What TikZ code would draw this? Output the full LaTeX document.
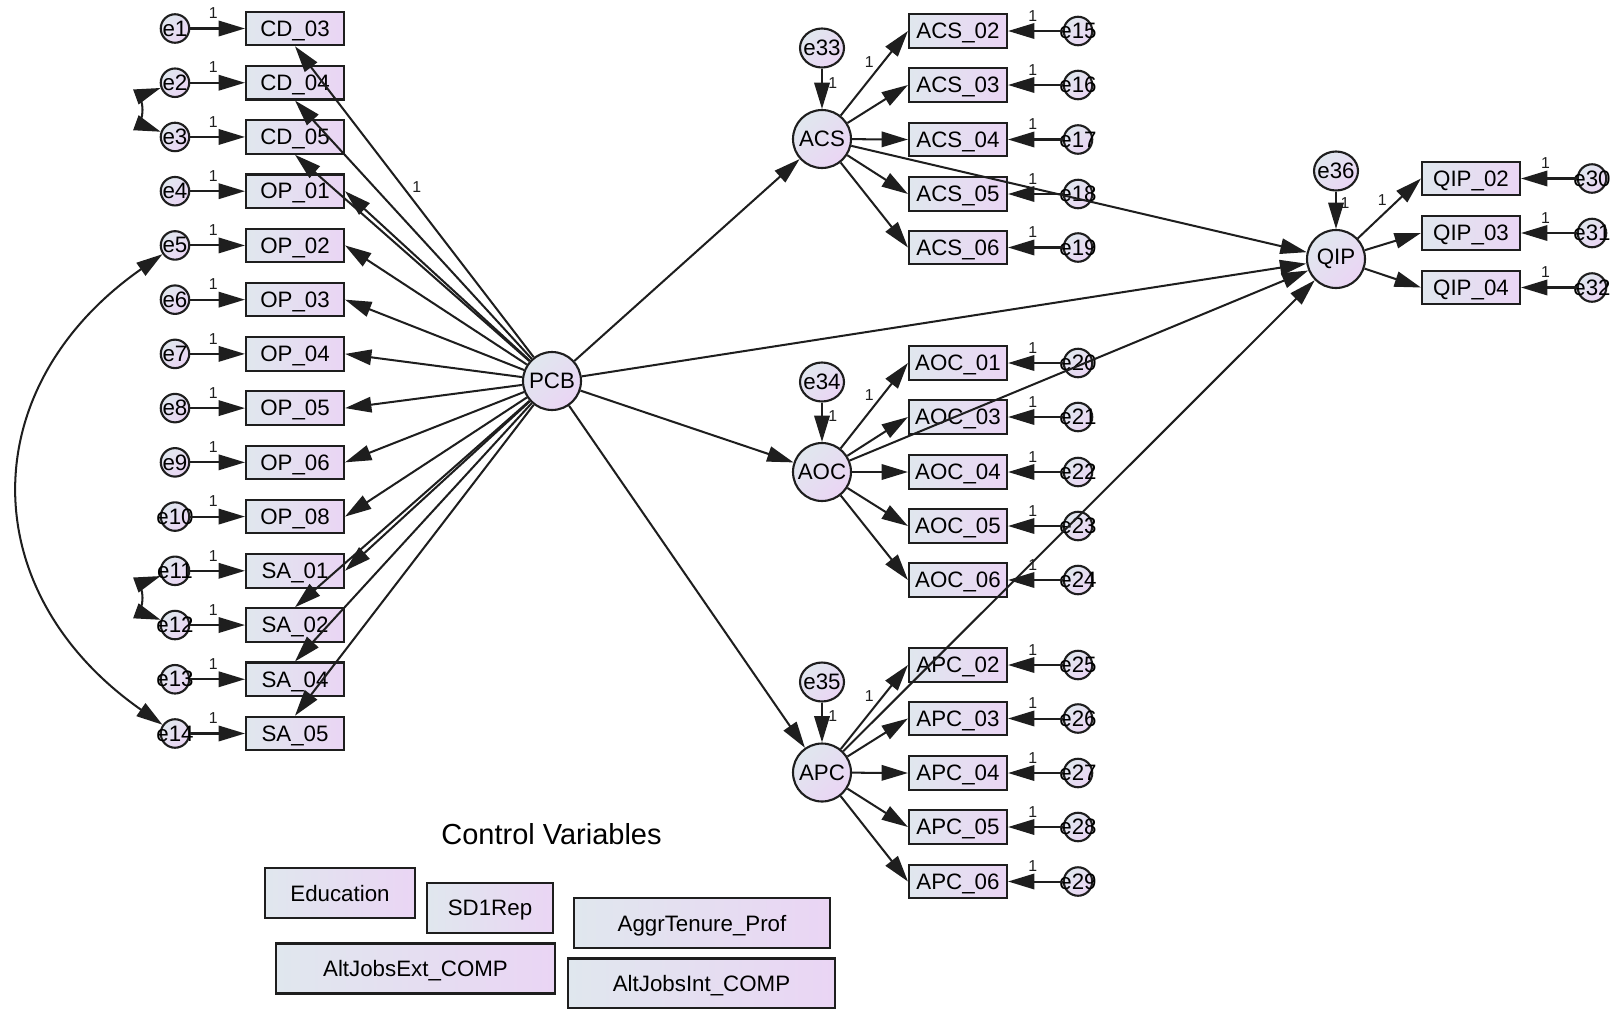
\documentclass[tikz,border=0pt]{standalone}
\usepackage{fontspec}
\setmainfont{Liberation Sans}
\usepackage{tikz}
\usetikzlibrary{arrows.meta, positioning, shapes.geometric}
\usepackage{xcolor}
\definecolor{ShadeL}{RGB}{224, 231, 238}
\definecolor{ShadeR}{RGB}{234, 213, 244}
\definecolor{Ink}{RGB}{30, 30, 30}

\begin{document}
\begin{tikzpicture}[
      x=0.02cm, y=0.02cm,
      ind/.style={draw=Ink, line width=1.2pt, left color=ShadeL, right color=ShadeR,
                  minimum width=1.96cm, minimum height=0.67cm, inner sep=1pt,
                  text depth=0pt, font=\fontsize{12.7}{14}\selectfont},
      cv/.style={ind, minimum height=1cm},
      lat/.style={circle, draw=Ink, line width=1.2pt, top color=ShadeL, bottom color=ShadeR,
                  shading angle=45, minimum size=1.16cm, inner sep=0pt,
                  font=\fontsize{12.7}{14}\selectfont},
      err/.style={lat, minimum size=0.57cm},
      derr/.style={lat, ellipse, minimum width=0.88cm, minimum height=0.78cm},
      etxt/.style={inner sep=0pt, font=\fontsize{12.7}{14}\selectfont},
      lbl/.style={inner sep=1pt, font=\fontsize{9}{10}\selectfont},
      arr/.style={->, >={Triangle[length=15pt, width=8.8pt]}, line width=1.15pt, Ink},
      cov/.style={arr, <->}
    ]
      \useasboundingbox (0,0) rectangle (1616,-1008);

      \node[lat] (pcb) at (552,-381) {PCB};
      \node[lat] (acs) at (822,-139) {ACS};
      \node[lat] (aoc) at (822,-472) {AOC};
      \node[lat] (apc) at (822,-772.5) {APC};
      \node[lat] (qip) at (1336,-259) {QIP};

      \foreach \nm/\lb [count=\i] in {cd03/CD\_03, cd04/CD\_04, cd05/CD\_05, op01/OP\_01,
          op02/OP\_02, op03/OP\_03, op04/OP\_04, op05/OP\_05, op06/OP\_06, op08/OP\_08,
          sa01/SA\_01, sa02/SA\_02, sa04/SA\_04, sa05/SA\_05} {
        \pgfmathsetmacro{\yy}{-28.5-54.23*(\i-1)}
        \node[ind] (\nm) at (295,\yy) {\lb};
        \node[err, label={[etxt]center:e\i}] (e\i) at (175,\yy) {};
        \draw[arr] (e\i) -- node[lbl, pos=.42, above=4pt] {1} (\nm);
      }

      \foreach \nm/\lb/\en/\yy in {acs02/ACS\_02/15/31, acs03/ACS\_03/16/85,
          acs04/ACS\_04/17/139.5, acs05/ACS\_05/18/194, acs06/ACS\_06/19/247.5,
          aoc01/AOC\_01/20/363, aoc03/AOC\_03/21/417, aoc04/AOC\_04/22/472,
          aoc05/AOC\_05/23/526, aoc06/AOC\_06/24/580,
          apc02/APC\_02/25/665, apc03/APC\_03/26/718.5, apc04/APC\_04/27/773,
          apc05/APC\_05/28/827, apc06/APC\_06/29/881.5} {
        \node[ind] (\nm) at (958,-\yy) {\lb};
        \node[err, label={[etxt]center:e\en}] (e\en) at (1078,-\yy) {};
        \draw[arr] (e\en) -- node[lbl, pos=.55, above=4pt] {1} (\nm);
      }

      \foreach \nm/\lb/\en/\yy in {qip02/QIP\_02/30/178.5, qip03/QIP\_03/31/233,
          qip04/QIP\_04/32/287.5} {
        \node[ind] (\nm) at (1471,-\yy) {\lb};
        \node[err, label={[etxt]center:e\en}] (e\en) at (1592,-\yy) {};
        \draw[arr] (e\en) -- node[lbl, pos=.56, above=4pt] {1} (\nm);
      }

      \node[derr, label={[etxt]center:e33}] (e33) at (822,-48) {};
      \node[derr, label={[etxt]center:e34}] (e34) at (822,-382) {};
      \node[derr, label={[etxt]center:e35}] (e35) at (822,-682) {};
      \node[derr, label={[etxt]center:e36}] (e36) at (1336,-171) {};

      \draw[arr] (e33) -- node[lbl, pos=.35, right=2pt] {1} (acs);
      \draw[arr] (e34) -- node[lbl, pos=.35, right=2pt] {1} (aoc);
      \draw[arr] (e35) -- node[lbl, pos=.35, right=2pt] {1} (apc);
      \draw[arr] (e36) -- node[lbl, pos=.3, right=1pt] {1} (qip);

      \draw[arr] (acs) -- node[lbl, pos=.53, above left] {1} (acs02.west);
      \draw[arr] (aoc) -- node[lbl, pos=.53, above left] {1} (aoc01.west);
      \draw[arr] (apc) -- node[lbl, pos=.53, above left] {1} (apc02.west);
      \draw[arr] (qip) -- node[lbl, pos=.5, above left] {1} (qip02.west);
      \foreach \lv/\nm in {acs/acs03, acs/acs04, acs/acs05, acs/acs06,
          aoc/aoc03, aoc/aoc04, aoc/aoc05, aoc/aoc06,
          apc/apc03, apc/apc04, apc/apc05, apc/apc06, qip/qip03, qip/qip04}
        \draw[arr] (\lv) -- (\nm.west);

      \draw[arr] (pcb) -- node[lbl, pos=.52, above right] {1} (cd03.south);
      \foreach \nm in {cd04, cd05}
        \draw[arr] (pcb) -- (\nm.south);
      \foreach \nm in {op01, op02, op03, op04, op05, op06, op08, sa01}
        \draw[arr] (pcb) -- (\nm.east);
      \foreach \nm in {sa02, sa04, sa05}
        \draw[arr] (pcb) -- (\nm.north);

      \draw[arr] (pcb) -- (acs);
      \draw[arr] (pcb) -- (aoc);
      \draw[arr] (pcb) -- (apc);
      \draw[arr] (pcb) -- (qip);
      \draw[arr] (acs) -- (qip);
      \draw[arr] (aoc) -- (qip);
      \draw[arr] (apc) -- (qip);

      \draw[cov] (e2) to[out=200, in=160] (e3);
      \draw[cov] (e11) to[out=200, in=160] (e12);
      \draw[cov] (e5) to[out=215, in=145, looseness=1.26] (e14);

      \node[font=\fontsize{16.5}{18}\selectfont] (cvtitle) at (551.5,-834) {Control Variables};
      \node[cv, minimum width=3cm] (educ) at (340,-893) {Education};
      \node[cv, minimum width=2.52cm] (sdrep) at (490,-908) {SD1Rep};
      \node[cv, minimum width=5.12cm] (aggr) at (702,-923) {AggrTenure\_Prof};
      \node[cv, minimum width=5.58cm] (altext) at (415.5,-968.5) {AltJobsExt\_COMP};
      \node[cv, minimum width=5.34cm] (altint) at (701.5,-983.5) {AltJobsInt\_COMP};
    \end{tikzpicture}
\end{document}
